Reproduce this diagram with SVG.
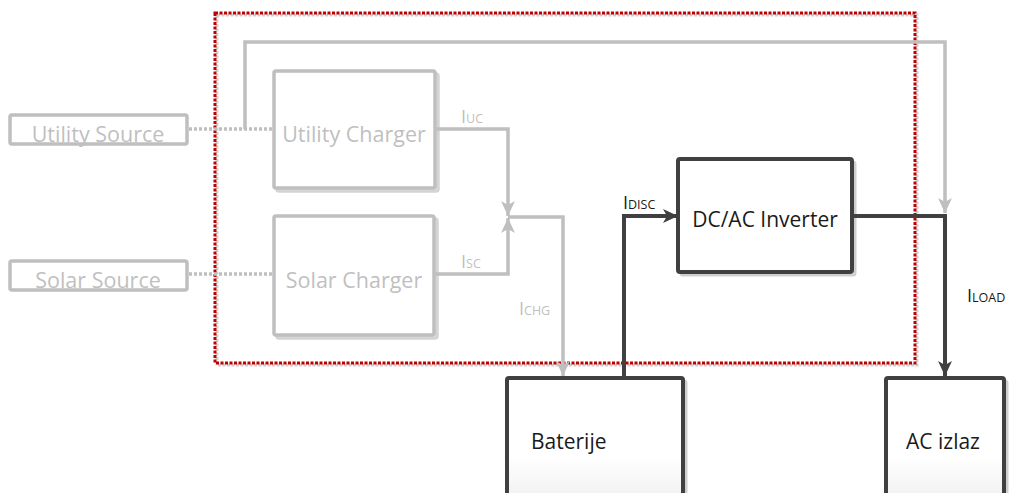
<svg xmlns="http://www.w3.org/2000/svg" width="1011" height="493" viewBox="0 0 1011 493">
<style>
.gbox{fill:#ffffff;stroke:#bfbfbf;stroke-width:3.5}
.gshadow{fill:none;stroke:#d4d4d4;stroke-width:3.5}
.dbox{stroke:#404040;stroke-width:4}
.dshadow{fill:none;stroke:#cfcfcf;stroke-width:3}
.gtxt{font-family:"Open Sans","Liberation Sans",sans-serif;fill:#bfbfbf;font-size:21.5px}
.dtxt{font-family:"Open Sans","Liberation Sans",sans-serif;fill:#1a1a1a;font-size:21px}
.glbl{font-family:"Open Sans","Liberation Sans",sans-serif;fill:#bfbfbf;font-size:12.5px}
.dlbl{font-family:"Open Sans","Liberation Sans",sans-serif;fill:#1a1a1a;font-size:12.5px}
.big{font-size:18px}
.gline{fill:none;stroke:#bfbfbf;stroke-width:3.5}
.dline{fill:none;stroke:#404040;stroke-width:4}
.dot{fill:none;stroke:#bfbfbf;stroke-width:3.5;stroke-dasharray:3 2}
</style>
<defs>
<marker id="ag" markerUnits="userSpaceOnUse" markerWidth="16" markerHeight="16" viewBox="0 0 16 16" refX="15" refY="8" orient="auto">
<path d="M0,1 L15,8 L0,15 L4,8 Z" fill="#bfbfbf"/>
</marker>
<marker id="ad" markerUnits="userSpaceOnUse" markerWidth="16" markerHeight="16" viewBox="0 0 16 16" refX="15" refY="8" orient="auto">
<path d="M0,1 L15,8 L0,15 L4,8 Z" fill="#404040"/>
</marker>
<linearGradient id="bg" x1="0" y1="0" x2="0" y2="1">
<stop offset="0" stop-color="#ffffff"/>
<stop offset="0.6" stop-color="#ffffff"/>
<stop offset="1" stop-color="#eeeeee"/>
</linearGradient>
</defs>

<g id="boundary">
<rect x="217" y="15" width="700" height="350" fill="none" stroke="#cfcfcf" stroke-width="3" stroke-dasharray="3 1.5"/>
<rect x="215" y="13" width="700" height="350" fill="none" stroke="#c00000" stroke-width="3" stroke-dasharray="3 1.5"/>
</g>

<g id="utility-source">
<text class="gtxt" x="98" y="142" text-anchor="middle">Utility Source</text>
<rect x="10" y="115" width="177" height="29" rx="2" fill="none" stroke="#bfbfbf" stroke-width="3.5"/>
</g>

<g id="solar-source">
<text class="gtxt" x="98" y="288" text-anchor="middle">Solar Source</text>
<rect x="10" y="261" width="177" height="29" rx="2" fill="none" stroke="#bfbfbf" stroke-width="3.5"/>
</g>

<g id="utility-charger">
<rect class="gshadow" x="277" y="74" width="161" height="117" rx="2"/>
<rect class="gbox" x="274" y="71" width="161" height="117" rx="2"/>
<text class="gtxt" x="354" y="142" text-anchor="middle">Utility Charger</text>
</g>

<g id="solar-charger">
<rect class="gshadow" x="277" y="219" width="160" height="119" rx="2"/>
<rect class="gbox" x="274" y="216" width="160" height="119" rx="2"/>
<text class="gtxt" x="354" y="288" text-anchor="middle">Solar Charger</text>
</g>

<g id="inverter">
<rect class="dshadow" x="681" y="162" width="174" height="113" rx="2"/>
<rect class="dbox" x="678" y="159" width="174" height="113" rx="2" fill="#ffffff"/>
<text class="dtxt" x="765" y="227" text-anchor="middle">DC/AC Inverter</text>
</g>

<g id="baterije">
<rect class="dshadow" x="510" y="381" width="176" height="130" rx="2"/>
<rect class="dbox" x="507" y="378" width="176" height="130" rx="2" fill="url(#bg)"/>
<text class="dtxt" x="531" y="449">Baterije</text>
</g>

<g id="ac-izlaz">
<rect class="dshadow" x="889" y="381" width="118" height="130" rx="2"/>
<rect class="dbox" x="886" y="378" width="118" height="130" rx="2" fill="url(#bg)"/>
<text class="dtxt" x="943" y="449" text-anchor="middle">AC izlaz</text>
</g>

<g id="connectors">
<path class="dot" d="M189,129 H272"/>
<path class="dot" d="M189,274 H272"/>
<path class="gline" d="M245,129 V42 H945 V213" marker-end="url(#ag)"/>
<path class="gline" d="M435,129 H508 V216" marker-end="url(#ag)"/>
<path class="gline" d="M435,274 H508 V218" marker-end="url(#ag)"/>
<path class="gline" d="M508,217 H563 V376" marker-end="url(#ag)"/>
<path class="dline" d="M624,376 V216 H678" marker-end="url(#ad)"/>
<path class="dline" d="M852,216 H945 V376" marker-end="url(#ad)"/>
</g>

<g id="labels">
<text class="glbl" x="461" y="123"><tspan class="big">I</tspan>UC</text>
<text class="glbl" x="461" y="268"><tspan class="big">I</tspan>SC</text>
<text class="glbl" x="519" y="315"><tspan class="big">I</tspan>CHG</text>
<text class="dlbl" x="623" y="209"><tspan class="big">I</tspan>DISC</text>
<text class="dlbl" x="967" y="302"><tspan class="big">I</tspan>LOAD</text>
</g>
</svg>
